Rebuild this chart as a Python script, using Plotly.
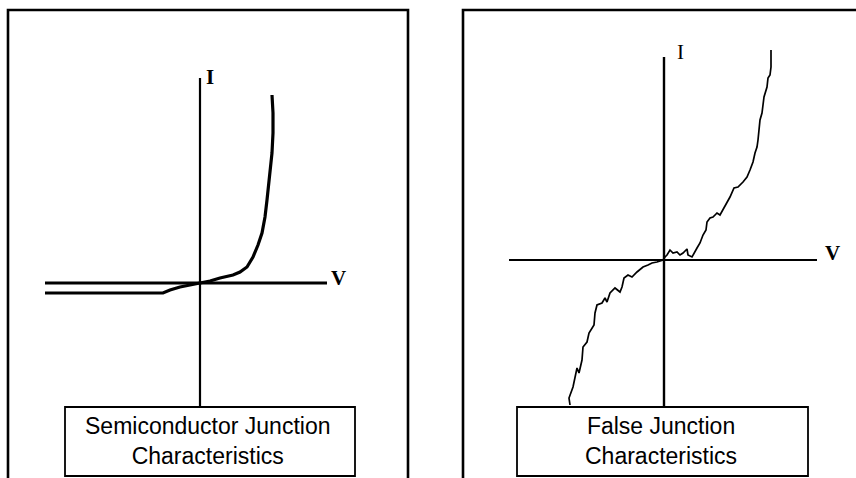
import plotly.graph_objects as go

# ---- data (arbitrary units, origin at axis crossing) ----
semi_v = [-15.5, -3.7, -3.0, -2.0, -1.0, 0.0, 1.0, 2.0, 3.3, 4.0, 4.7, 5.3, 5.8, 6.2,
          6.5, 6.7, 6.9, 7.2, 7.3, 7.3, 7.2]
semi_i = [-1.0, -1.0, -0.7, -0.4, -0.2, 0.0, 0.2, 0.5, 0.8, 1.1, 1.6, 2.6, 3.8, 5.0,
          6.6, 8.3, 10.3, 13.0, 15.0, 17.0, 18.8]

false_v = [-9.4, -9.5, -9.1, -8.9, -8.7, -8.5, -8.2, -8.1, -7.7, -7.5, -7.2, -7.0, -6.9,
           -6.7, -6.2, -5.9, -5.7, -5.4, -4.9, -4.4, -4.2, -4.0, -3.6, -3.2, -2.7, -2.1,
           -1.6, -1.2, -0.7, -0.1, 0.1, 0.3, 0.6, 0.9, 1.3, 1.6, 1.9, 2.3, 2.4, 2.8, 3.3,
           3.6, 3.9, 4.2, 4.3, 4.6, 4.9, 5.3, 5.6, 5.9, 6.3, 6.6, 7.0, 7.4, 7.9, 8.3, 8.6,
           8.9, 9.1, 9.3, 9.4, 9.5, 9.6, 9.8, 9.9, 10.0, 10.3, 10.4, 10.6, 10.7, 10.7, 10.7]
false_i = [-14.5, -13.8, -12.7, -11.7, -10.8, -11.3, -10.0, -8.7, -8.2, -7.3, -6.8, -6.5,
           -5.3, -4.5, -4.3, -3.8, -4.2, -3.3, -2.8, -3.2, -2.7, -1.8, -1.5, -1.7, -1.2,
           -0.7, -0.5, -0.3, -0.2, 0.0, 0.3, 0.5, 1.0, 0.7, 0.8, 0.5, 0.7, 1.1, 0.5, 0.3,
           1.2, 1.7, 2.5, 3.0, 3.8, 4.2, 4.3, 4.7, 4.5, 5.0, 5.7, 6.3, 7.2, 7.3, 7.8, 8.3,
           9.0, 9.8, 10.7, 11.3, 12.0, 13.0, 14.0, 14.7, 15.7, 16.3, 17.3, 18.2, 18.5,
           19.3, 20.2, 21.0]

# axis extents for each panel (V axis min/max, I axis min/max)
semi_axis_v = [-15.5, 12.7]
semi_axis_i = [-12.4, 20.5]
false_axis_v = [-15.5, 15.3]
false_axis_i = [-14.7, 20.3]

titles = ["Semiconductor Junction<br>Characteristics", "False Junction<br>Characteristics"]

W, H = 856, 478
px = lambda x: x / W
py = lambda y: 1 - y / H

fig = go.Figure()
fig.add_trace(go.Scatter(x=semi_v, y=semi_i, mode="lines", xaxis="x", yaxis="y",
                         line=dict(color="black", width=3.2), hoverinfo="skip"))
fig.add_trace(go.Scatter(x=false_v, y=false_i, mode="lines", xaxis="x2", yaxis="y2",
                         line=dict(color="black", width=1.7), hoverinfo="skip"))

shapes = []
# axes lines
shapes.append(dict(type="line", xref="x", yref="y", x0=semi_axis_v[0], x1=semi_axis_v[1], y0=0, y1=0,
                   line=dict(color="black", width=3.2), layer="below"))
shapes.append(dict(type="line", xref="x", yref="y", x0=0, x1=0, y0=semi_axis_i[0], y1=semi_axis_i[1],
                   line=dict(color="black", width=2.2), layer="below"))
shapes.append(dict(type="line", xref="x2", yref="y2", x0=false_axis_v[0], x1=false_axis_v[1], y0=0, y1=0,
                   line=dict(color="black", width=2), layer="below"))
shapes.append(dict(type="line", xref="x2", yref="y2", x0=0, x1=0, y0=false_axis_i[0], y1=false_axis_i[1],
                   line=dict(color="black", width=2.4), layer="below"))
# panel borders
shapes.append(dict(type="rect", xref="paper", yref="paper", x0=px(8), x1=px(408), y0=py(495), y1=py(10),
                   line=dict(color="black", width=2.6)))
shapes.append(dict(type="rect", xref="paper", yref="paper", x0=px(463), x1=px(880), y0=py(495), y1=py(10),
                   line=dict(color="black", width=2.6)))
# caption boxes
shapes.append(dict(type="rect", xref="paper", yref="paper", x0=px(65), x1=px(355), y0=py(476), y1=py(407),
                   line=dict(color="black", width=1.8), fillcolor="white"))
shapes.append(dict(type="rect", xref="paper", yref="paper", x0=px(517), x1=px(808), y0=py(476), y1=py(407),
                   line=dict(color="black", width=1.8), fillcolor="white"))

annotations = []
serif = dict(family="Liberation Serif, Times New Roman, serif", size=21, color="black")
annotations.append(dict(xref="x", yref="y", x=1.0, y=20.6, text="<b>I</b>", showarrow=False, font=serif))
annotations.append(dict(xref="x", yref="y", x=13.8, y=0.5, text="<b>V</b>", showarrow=False, font=serif))
annotations.append(dict(xref="x2", yref="y2", x=1.6, y=20.8, text="I", showarrow=False, font=serif))
annotations.append(dict(xref="x2", yref="y2", x=16.8, y=0.7, text="<b>V</b>", showarrow=False, font=serif))
sans = dict(family="Liberation Sans, Arial, sans-serif", size=23, color="black")
annotations.append(dict(xref="paper", yref="paper", x=px(207), y=py(441), text=titles[0],
                        showarrow=False, font=sans, xanchor="center", yanchor="middle"))
annotations.append(dict(xref="paper", yref="paper", x=px(661), y=py(441), text=titles[1],
                        showarrow=False, font=sans, xanchor="center", yanchor="middle"))

ax_common = dict(showgrid=False, zeroline=False, showticklabels=False, ticks="",
                 showline=False, fixedrange=True)
fig.update_layout(
    width=W, height=H,
    margin=dict(l=0, r=0, t=0, b=0),
    paper_bgcolor="white", plot_bgcolor="white",
    showlegend=False,
    xaxis=dict(domain=[0, 0.5], range=[-20.0, 22.8], anchor="y", **ax_common),
    yaxis=dict(domain=[0, 1], range=[-19.5, 28.3], anchor="x", **ax_common),
    xaxis2=dict(domain=[0.5, 1], range=[-23.6, 19.2], anchor="y2", **ax_common),
    yaxis2=dict(domain=[0, 1], range=[-21.8, 26.0], anchor="x2", **ax_common),
    shapes=shapes,
    annotations=annotations,
)

fig.write_html("out.html", config={"displayModeBar": False},
               post_script="document.body.style.margin='0';document.body.style.overflow='hidden';")
